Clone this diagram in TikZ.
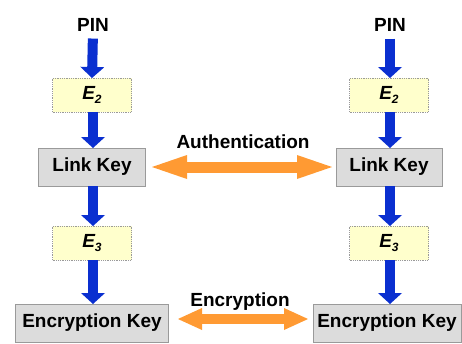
\documentclass[tikz,border=0pt]{standalone}
\usepackage{fontspec}
\setmainfont{Liberation Sans}
\usetikzlibrary{arrows.meta}
\definecolor{bluearr}{HTML}{0A2FD0}
\definecolor{orangearr}{HTML}{FF9A33}
\definecolor{yelbox}{HTML}{FFFFCC}
\definecolor{graybox}{HTML}{DCDCDC}
\definecolor{boxline}{HTML}{9A9A9A}
\newcommand{\Esub}[1]{\textit{E}\kern-0.5pt\raisebox{-4pt}{\fontsize{12}{12}\selectfont\textit{#1}}}
\begin{document}
\begin{tikzpicture}[x=1pt,y=-1pt,
  every node/.style={font=\fontsize{19}{22}\selectfont\bfseries, inner sep=0pt, outer sep=0pt},
  lbl/.style={},
  ebox/.style={draw=boxline, densely dotted, line width=0.8pt, fill=yelbox, minimum width=79pt, minimum height=34pt},
  kbox/.style={draw=boxline, line width=0.8pt, fill=graybox, minimum height=38pt},
  bluearrow/.style={draw=bluearr, line width=10pt, -{Triangle[width=24pt,length=11pt,line width=0pt]}},
  orangearrow/.style={draw=orangearr, line width=#1}
]
\useasboundingbox (0,0) rectangle (462,343);
% left column
\node[lbl] (pin1) at (93,25) {PIN};
\node[ebox] (e2a) at (92,95) {\Esub{2}};
\node[kbox, minimum width=107pt] (lk1) at (92,167) {Link Key};
\node[ebox] (e3a) at (92,243) {\Esub{3}};
\node[kbox, minimum width=153pt] (ek1) at (92,323) {Encryption Key};
% right column
\node[lbl] (pin2) at (390,25) {PIN};
\node[ebox] (e2b) at (389,95) {\Esub{2}};
\node[kbox, minimum width=106pt] (lk2) at (389,167) {Link Key};
\node[ebox] (e3b) at (389,243) {\Esub{3}};
\node[kbox, minimum width=148pt] (ek2) at (387,323) {Encryption Key};
% middle labels
\node[lbl] (auth) at (243,142) {Authentication};
\node[lbl] (enc) at (240,302) {Encryption};
% blue arrows
\draw[bluearrow, shorten <=7pt] ([xshift=0pt]pin1.south) -- (e2a.north);
\draw[bluearrow] ([xshift=1pt]e2a.south) -- ([xshift=1pt]lk1.north);
\draw[bluearrow] ([xshift=1pt]lk1.south) -- ([xshift=1pt]e3a.north);
\draw[bluearrow] ([xshift=1pt]e3a.south) -- ([xshift=1pt]ek1.north);
\draw[bluearrow, shorten <=7pt] (pin2.south) -- ([xshift=1pt]e2b.north);
\draw[bluearrow] ([xshift=1pt]e2b.south) -- ([xshift=1pt]lk2.north);
\draw[bluearrow] ([xshift=1pt]lk2.south) -- ([xshift=1pt]e3b.north);
\draw[bluearrow] ([xshift=1pt]e3b.south) -- ([xshift=3pt]ek2.north);
% orange double arrows
\draw[draw=orangearr, line width=11pt,
  {Triangle[width=24pt,length=35pt,line width=0pt]}-{Triangle[width=24pt,length=35pt,line width=0pt]},
  shorten <=6.5pt, shorten >=4pt] (lk1.east) -- (lk2.west);
\draw[draw=orangearr, line width=10pt,
  {Triangle[width=22pt,length=24pt,line width=0pt]}-{Triangle[width=22pt,length=24pt,line width=0pt]},
  shorten <=9.5pt, shorten >=5pt] ([yshift=4pt]ek1.east) -- ([yshift=4pt]ek2.west);
\end{tikzpicture}
\end{document}
